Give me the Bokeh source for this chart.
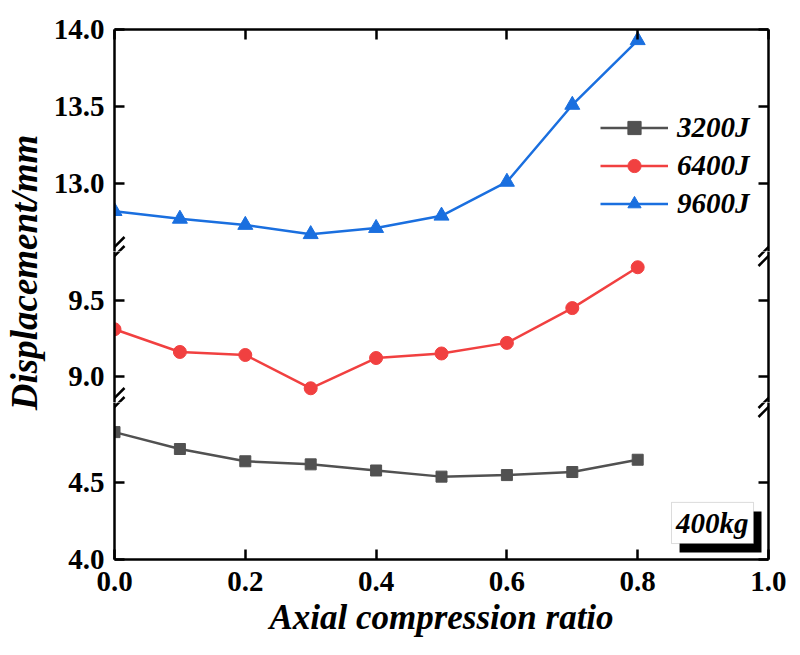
from bokeh.plotting import figure
from bokeh.models import (Range1d, LinearAxis, FixedTicker, Legend, LegendItem, Arrow,
                          BoxAnnotation, Label, NumeralTickFormatter, CustomJSTickFormatter,
                          ColumnDataSource, Grid)
from bokeh.layouts import row, column
from bokeh.embed import file_html
from bokeh.resources import INLINE

# ---------------- data ----------------
ratio = [0.0, 0.1, 0.2, 0.3, 0.4, 0.5, 0.6, 0.7, 0.8]
disp_3200 = [4.83, 4.72, 4.64, 4.62, 4.58, 4.54, 4.55, 4.57, 4.65]
disp_6400 = [9.31, 9.16, 9.14, 8.92, 9.12, 9.15, 9.22, 9.45, 9.72]
disp_9600 = [12.82, 12.77, 12.73, 12.67, 12.71, 12.79, 13.01, 13.51, 13.93]
series_names = ["3200J", "6400J", "9600J"]
x_ticks = [0.0, 0.2, 0.4, 0.6, 0.8, 1.0]
top_ticks = [13.0, 13.5, 14.0]
mid_ticks = [9.0, 9.5]
bot_ticks = [4.0, 4.5]
# broken-axis segments
top_seg = (12.558, 14.0)
mid_seg = (8.826, 9.824)
bot_seg = (4.0, 5.023)

colors = ["#515151", "#F14040", "#1A6FDF"]
markers = ["square", "circle", "triangle"]
msizes = [11, 13, 15]
FONT = '"Liberation Serif"'
FRAME_W = 654

src = ColumnDataSource(dict(x=ratio, s3200=disp_3200, s6400=disp_6400, s9600=disp_9600))
ycols = ["s3200", "s6400", "s9600"]

xr = Range1d(0.0, 1.0)


def style_axis(ax, labels=True):
    ax.axis_line_width = 2.5
    ax.axis_line_color = "black"
    ax.major_tick_in = 10
    ax.major_tick_out = 0
    ax.major_tick_line_width = 2.5
    ax.major_tick_line_color = "black"
    ax.minor_tick_line_color = None
    ax.major_label_text_font = FONT
    ax.major_label_text_font_style = "bold"
    ax.major_label_text_font_size = "29px"
    ax.major_label_text_color = "black"
    ax.major_label_standoff = 10
    if not labels:
        ax.formatter = CustomJSTickFormatter(code="return ''")


def add_break(p, y_edge, fh, y0, y1):
    ppu_y = fh / (y1 - y0)
    for xc in (0.0, 1.0):
        for dy in (-4.5, 4.5):
            p.add_layout(Arrow(end=None, line_width=2.5, line_color="black",
                               x_start=xc - 10 / FRAME_W, y_start=y_edge - (dy + 10) / ppu_y,
                               x_end=xc + 10 / FRAME_W, y_end=y_edge - (dy - 10) / ppu_y))


def make_seg(seg, fh, ticks, rticks, top=False, bottom=False):
    y0, y1 = seg
    p = figure(frame_width=FRAME_W, frame_height=fh, x_range=xr, y_range=Range1d(y0, y1),
               x_axis_location=None, y_axis_location=None,
               output_backend="svg", toolbar_location=None,
               min_border_left=66, min_border_right=18,
               min_border_top=29 if top else 0, min_border_bottom=86 if bottom else 0)
    p.outline_line_color = None
    p.background_fill_color = "white"
    p.renderers = [r for r in p.renderers if not isinstance(r, Grid)]
    p.center = [c for c in p.center if not isinstance(c, Grid)]
    rs = []
    for i in range(3):
        l = p.line("x", ycols[i], source=src, line_color=colors[i], line_width=2.5)
        s = p.scatter("x", ycols[i], source=src, marker=markers[i], size=msizes[i],
                      fill_color=colors[i], line_color=colors[i])
        rs.append((l, s))
    la = LinearAxis(ticker=FixedTicker(ticks=ticks, minor_ticks=[]),
                    formatter=NumeralTickFormatter(format="0.0"))
    style_axis(la)
    p.add_layout(la, "left")
    ra = LinearAxis(ticker=FixedTicker(ticks=rticks, minor_ticks=[]))
    style_axis(ra, labels=False)
    p.add_layout(ra, "right")
    if top:
        ta = LinearAxis(ticker=FixedTicker(ticks=x_ticks, minor_ticks=[]))
        style_axis(ta, labels=False)
        p.add_layout(ta, "above")
    if bottom:
        ba = LinearAxis(ticker=FixedTicker(ticks=x_ticks, minor_ticks=[]),
                        formatter=NumeralTickFormatter(format="0.0"),
                        axis_label="Axial compression ratio")
        style_axis(ba)
        ba.major_label_standoff = 12
        ba.axis_label_text_font = FONT
        ba.axis_label_text_font_style = "bold italic"
        ba.axis_label_text_font_size = "35px"
        ba.axis_label_text_color = "black"
        ba.axis_label_standoff = 4
        p.add_layout(ba, "below")
    return p, rs


p_top, rs_top = make_seg(top_seg, 222, top_ticks, [13.0, 13.5, 14.0], top=True)
p_mid, _ = make_seg(mid_seg, 151, mid_ticks, [9.0, 9.5])
p_bot, _ = make_seg(bot_seg, 157, bot_ticks, [4.0, 4.5], bottom=True)

add_break(p_top, top_seg[0], 222, *top_seg)
add_break(p_mid, mid_seg[1], 151, *mid_seg)
add_break(p_mid, mid_seg[0], 151, *mid_seg)
add_break(p_bot, bot_seg[1], 157, *bot_seg)

legend = Legend(items=[LegendItem(label=series_names[i], renderers=list(rs_top[i])) for i in range(3)],
                location=(486, 31))
legend.label_text_font = FONT
legend.label_text_font_style = "bold italic"
legend.label_text_font_size = "29px"
legend.label_text_color = "black"
legend.glyph_width = 68
legend.glyph_height = 33
legend.label_height = 33
legend.spacing = 5
legend.padding = 0
legend.margin = 0
legend.label_standoff = 9
legend.border_line_color = None
legend.background_fill_alpha = 0
p_top.add_layout(legend)

# 400kg annotation with drop shadow
p_bot.add_layout(BoxAnnotation(left=0.864, right=0.9893, bottom=4.046, top=4.313,
                               fill_color="black", fill_alpha=1.0, line_color=None))
p_bot.add_layout(BoxAnnotation(left=0.8517, right=0.9771, bottom=4.104, top=4.372,
                               fill_color="white", fill_alpha=1.0, line_color="#8c8c8c",
                               line_width=1))
p_bot.add_layout(Label(x=0.914, y=4.238, text="400kg", text_align="center",
                       text_baseline="middle", text_font=FONT, text_font_style="bold italic",
                       text_font_size="29px", text_color="black"))

# y-axis title panel
pl = figure(width=48, height=645, x_range=Range1d(0, 1), y_range=Range1d(0, 1),
            x_axis_location=None, y_axis_location=None,
            output_backend="svg", toolbar_location=None,
            min_border_left=0, min_border_right=0, min_border_top=172, min_border_bottom=273)
pl.outline_line_color = None
pl.renderers = [r for r in pl.renderers if not isinstance(r, Grid)]
pl.center = [c for c in pl.center if not isinstance(c, Grid)]
yl = LinearAxis(axis_label="Displacement/mm", ticker=FixedTicker(ticks=[]),
                axis_line_color=None, major_tick_line_color=None, minor_tick_line_color=None,
                axis_label_text_font=FONT, axis_label_text_font_style="bold italic",
                axis_label_text_font_size="37px", axis_label_text_color="black",
                axis_label_standoff=0)
pl.add_layout(yl, "left")

layout = row(pl, column(p_top, p_mid, p_bot))
open("out.html", "w").write(file_html(layout, INLINE))
